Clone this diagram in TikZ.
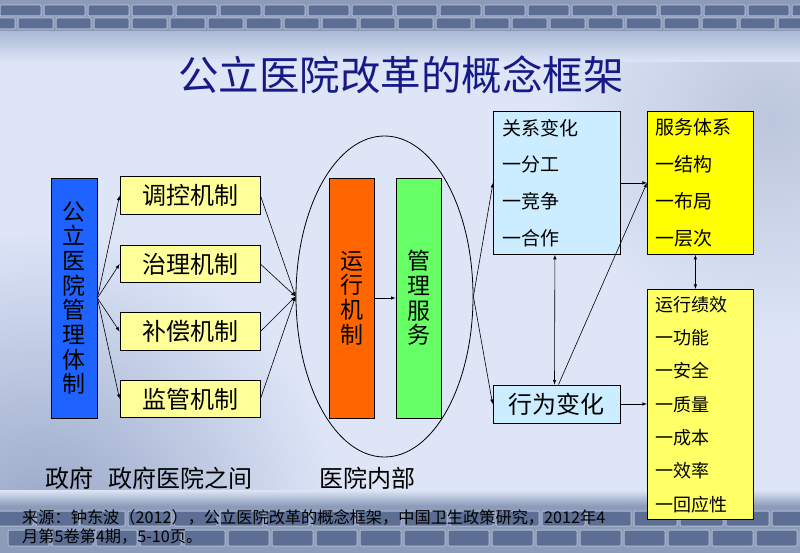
\documentclass[tikz,border=0pt]{standalone}
\usepackage{fontspec}
\setmainfont{Noto Sans CJK SC}
\usetikzlibrary{arrows,shapes.geometric}

\definecolor{bgblue}{RGB}{221,229,247}
\definecolor{bandblue}{RGB}{140,155,186}
\definecolor{brickblue}{RGB}{92,110,148}
\definecolor{mortar}{RGB}{178,188,208}
\definecolor{titleblue}{RGB}{22,26,135}
\definecolor{sysblue}{RGB}{30,98,255}
\definecolor{mechyellow}{RGB}{255,255,153}
\definecolor{runorange}{RGB}{255,102,0}
\definecolor{svcgreen}{RGB}{102,255,102}
\definecolor{relcyan}{RGB}{204,236,255}
\definecolor{svcyellow}{RGB}{255,255,0}
\definecolor{perfyellow}{RGB}{255,255,102}

\tikzset{
  box/.style={draw=black, line width=0.8pt, inner sep=0pt},
  colbox/.style={box, minimum width=46pt, minimum height=240pt, align=center,
    font=\fontsize{23}{24.7}\selectfont},
  mechbox/.style={box, fill=mechyellow, minimum width=140pt, minimum height=37.5pt,
    font=\fontsize{24}{28}\selectfont},
  listbox/.style={box, anchor=north west, align=left, inner xsep=9pt},
  link/.style={-latex, line width=0.6pt},
  twoway/.style={latex-latex, line width=0.6pt},
  brick/.style={fill=brickblue, draw=mortar, line width=1pt, rounded corners=1pt},
  areatext/.style={font=\fontsize{24}{28}\selectfont},
}

\begin{document}
\begin{tikzpicture}[x=1pt,y=1pt,yscale=-1,xscale=1]
\useasboundingbox (0,0) rectangle (800,553);

%Background
\fill[bgblue] (0,0) rectangle (800,553);
\begin{scope}
\clip (0,0) rectangle (800,553);
\shade[inner color={rgb,255:red,150;green,165;blue,198}, outer color=bgblue] (40,530) circle (300);
\shade[inner color={rgb,255:red,188;green,198;blue,220}, outer color=bgblue] (770,120) circle (220);
\end{scope}
\shade[top color={rgb,255:red,170;green,184;blue,212}, bottom color=bgblue] (0,31) rectangle (800,62);
\shade[top color=bgblue, bottom color=bandblue] (0,490) rectangle (800,506);

%Bricks, top band
\fill[bandblue] (0,0) rectangle (800,31);
\foreach \bx in {0,44,...,800} \draw[brick] (\bx,5) rectangle (\bx+41,16);
\foreach \bx in {-20,18,...,800} \draw[brick] (\bx,18) rectangle (\bx+35,29);
%Bricks, bottom band
\fill[bandblue] (0,506) rectangle (800,553);
\foreach \bx in {-10,36,...,800} \draw[brick] (\bx,511) rectangle (\bx+43,526);
\foreach \bx in {8,52,...,800} \draw[brick] (\bx,530) rectangle (\bx+41,546);

%Title
\node[text=titleblue, font=\fontsize{40.5}{48}\selectfont] (title) at (401,75) {公立医院改革的概念框架};

%Government side
\node[colbox, fill=sysblue] (sys) at (74,298) {公\\立\\医\\院\\管\\理\\体\\制};
\node[mechbox] (mechA) at (190,195.5) {调控机制};
\node[mechbox] (mechB) at (190,264) {治理机制};
\node[mechbox] (mechC) at (190,331.5) {补偿机制};
\node[mechbox] (mechD) at (190,399) {监管机制};

%Hospital inside
\node[draw=black, line width=0.8pt, ellipse, minimum width=177pt, minimum height=321pt] (hosp) at (384.5,296.5) {};
\node[colbox, fill=runorange, minimum width=45pt] (run) at (351.5,298) {运\\行\\机\\制};
\node[colbox, fill=svcgreen, minimum width=45pt] (mgmt) at (418.5,298) {管\\理\\服\\务};

%Outcomes
\node[listbox, fill=relcyan, text width=109pt, minimum height=143pt,
  font=\fontsize{19}{36.7}\selectfont] (rel) at (493,111) {关系变化\\一分工\\一竞争\\一合作};
\node[box, fill=relcyan, minimum width=127pt, minimum height=38pt,
  font=\fontsize{24}{28}\selectfont] (beh) at (556.5,404) {行为变化};
\node[listbox, fill=svcyellow, inner xsep=8pt, text width=90pt, minimum height=143pt,
  font=\fontsize{19}{36.7}\selectfont] (svc) at (647,111) {服务体系\\一结构\\一布局\\一层次};
\node[listbox, fill=perfyellow, inner xsep=8pt, text width=90pt, minimum height=230pt,
  font=\fontsize{18}{33.3}\selectfont] (perf) at (647,289) {运行绩效\\一功能\\一安全\\一质量\\一成本\\一效率\\一回应性};

%Connectors
\foreach \m in {mechA,mechB,mechC,mechD} {
  \draw[link] (sys.east) -- (\m.west);
  \draw[link] (\m.east) -- (hosp.west);
}
\draw[link] (run.east) -- (mgmt.west);
\draw[link] (hosp.east) -- (rel.west);
\draw[link] (hosp.east) -- (beh.west);
\draw[link] (rel.east) -- (svc.west);
\draw[link] (beh.east) -- (beh.east -| perf.west);
\draw[link] ([xshift=2pt]beh.north) -- (svc.west);
\draw[twoway] ([xshift=-2pt]rel.south) -- ([xshift=-2pt]beh.north);
\draw[twoway] ([xshift=-5pt]svc.south) -- ([xshift=-5pt]perf.north);

%Area labels
\node[areatext] (gov) at (69,478) {政府};
\node[areatext] (between) at (180,478) {政府医院之间};
\node[areatext] (inside) at (367,478) {医院内部};

%Source
\node[anchor=north west, align=left, inner sep=0pt, font=\fontsize{16.2}{19}\selectfont] (src) at (22,509)
  {来源：钟东波（2012），公立医院改革的概念框架，中国卫生政策研究，2012年4\\月第5卷第4期，5-10页。};
\end{tikzpicture}
\end{document}
